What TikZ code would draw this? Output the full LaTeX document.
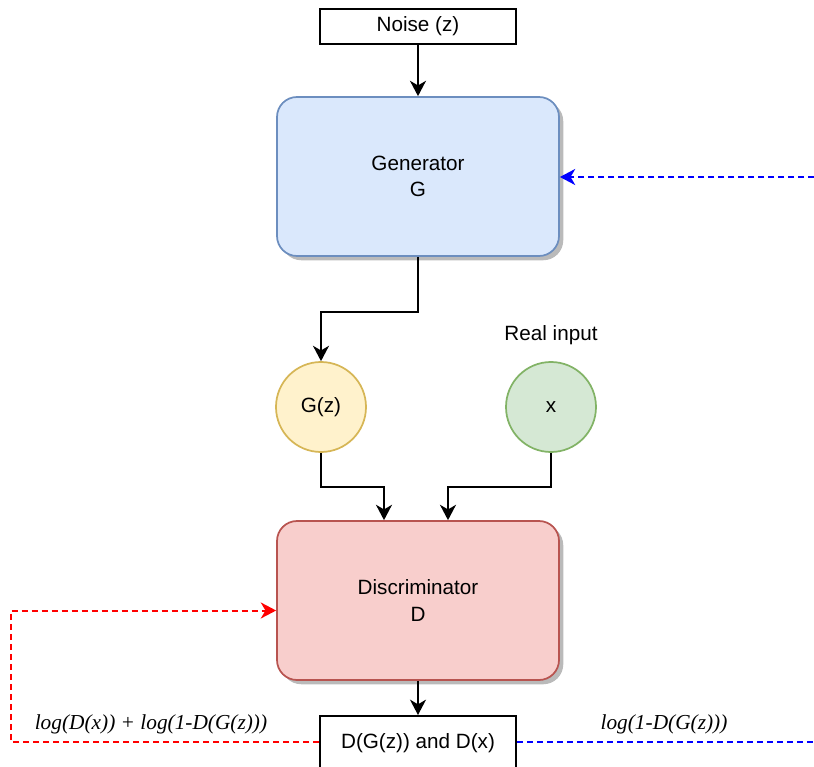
\documentclass[tikz,border=0pt]{standalone}
\usepackage{fontspec}
\setmainfont{Liberation Sans}
\newfontfamily\logfont{Liberation Serif}
\usetikzlibrary{arrows.meta,calc,shadows}

\definecolor{genfill}{HTML}{DAE8FC}
\definecolor{genline}{HTML}{6C8EBF}
\definecolor{discfill}{HTML}{F8CECC}
\definecolor{discline}{HTML}{B85450}
\definecolor{gzfill}{HTML}{FFF2CC}
\definecolor{gzline}{HTML}{D6B656}
\definecolor{xfill}{HTML}{D5E8D4}
\definecolor{xline}{HTML}{82B366}
\definecolor{lossred}{HTML}{FF0000}
\definecolor{lossblue}{HTML}{0000FF}

\tikzset{
  label font/.style={font=\fontsize{15.5}{20}\selectfont},
  plainbox/.style={draw=black, line width=1.5pt, fill=white, label font,
    minimum width=147pt, minimum height=26.25pt, inner sep=0pt},
  netbox/.style={rounded corners=15pt, line width=1.3pt, label font,
    minimum width=211.5pt, minimum height=119.25pt, align=center, inner sep=0pt,
    general shadow={fill=black!27, shadow xshift=3.2pt, shadow yshift=-3.2pt}},
  datanode/.style={circle, line width=1.3pt, label font,
    minimum size=67.5pt, inner sep=0pt},
  tip/.style={-{Stealth[length=11.5pt, width=12pt, inset=3.5pt]}},
  flow/.style={draw=black, line width=1.5pt, tip},
  lossflow/.style={line width=1.5pt, dash pattern=on 4.5pt off 3pt, tip},
  lossline/.style={line width=1.5pt, dash pattern=on 4.5pt off 3pt},
  losslabel/.style={font=\logfont\itshape\fontsize{16}{20}\selectfont, inner sep=0pt},
}

\begin{document}
\begin{tikzpicture}[x=0.75pt, y=-0.75pt]
  \clip (0,0) rectangle (814,767);

  % networks and data
  \node[plainbox] (noise) at (418,26.5) {Noise (z)};
  \node[netbox, fill=genfill, draw=genline] (gen) at (418,176.5) {Generator\\G};
  \node[datanode, fill=gzfill, draw=gzline] (gz) at (321,407) {G(z)};
  \node[datanode, fill=xfill, draw=xline] (xin) at (551,407) {x};
  \node[label font] (realtxt) at (551,335) {Real input};
  \node[netbox, fill=discfill, draw=discline] (disc) at (418,600.5) {Discriminator\\D};
  \node[plainbox, minimum height=40.5pt] (out) at (418,743) {D(G(z)) and D(x)};

  % free ends of the loss lines on the right
  \coordinate (genloss) at (814,177);
  \coordinate (outloss) at (814,742);

  % forward pass
  \draw[flow] (noise) -- (gen);
  \draw[flow] (gen.south) -- ++(0,55) -| (gz.north);
  \draw[flow] (gz.south) -- ++(0,34) -| ($(disc.north)+(-34,0)$);
  \draw[flow] (xin.south) -- ++(0,34) -| ($(disc.north)+(30,0)$);
  \draw[flow] (disc) -- (out);

  % loss feedback
  \draw[lossflow, draw=lossred, lossred]
    ($(out.west)+(0,-1)$) -- ++(-308,0) |- ($(disc.west)+(0,10)$);
  \draw[lossline, draw=lossblue] ($(out.east)+(0,-1)$) -- (outloss);
  \draw[lossflow, draw=lossblue, lossblue] (genloss) -- (gen.east |- genloss);

  % loss terms
  \node[losslabel] (dloss) at (151,724) {log(D(x)) + log(1-D(G(z)))};
  \node[losslabel] (gloss) at (664,724) {log(1-D(G(z)))};
\end{tikzpicture}
\end{document}
